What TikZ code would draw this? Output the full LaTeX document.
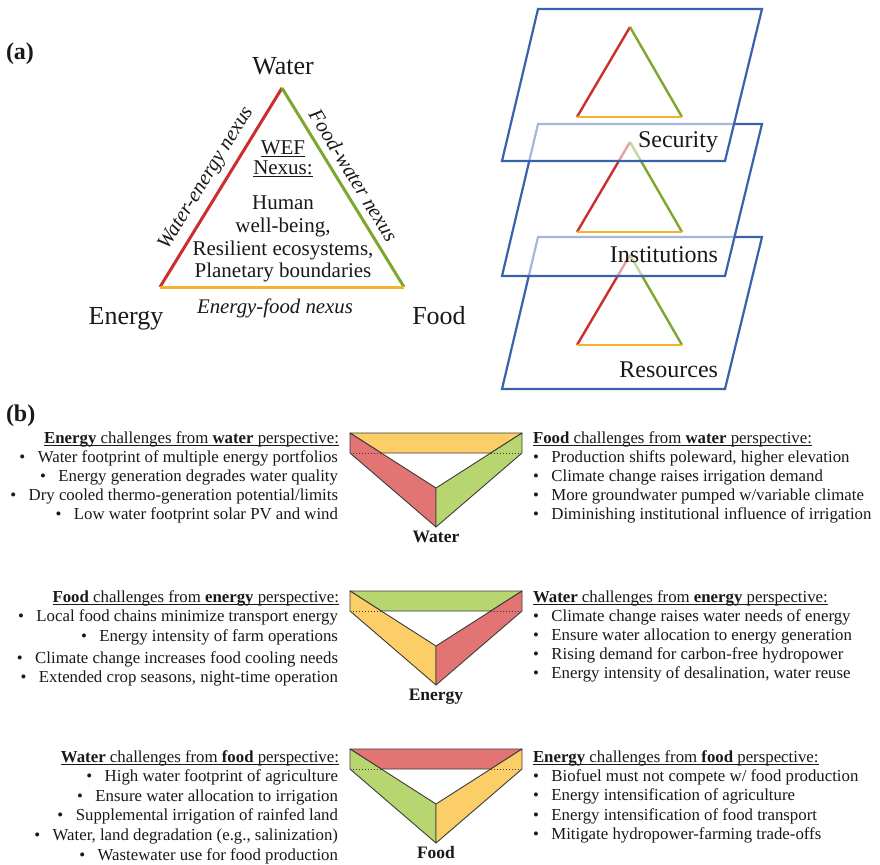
\documentclass[tikz,border=0pt]{standalone}
\usepackage{fontspec}
\setmainfont{Liberation Serif}
\definecolor{tred}{RGB}{205,45,45}
\definecolor{tgreen}{RGB}{125,168,45}
\definecolor{torange}{RGB}{246,178,40}
\definecolor{pblue}{RGB}{58,98,172}
\definecolor{fyellow}{RGB}{251,206,104}
\definecolor{fred}{RGB}{226,116,116}
\definecolor{fgreen}{RGB}{184,214,112}
\definecolor{ink}{RGB}{25,25,25}
\definecolor{edgegray}{RGB}{60,60,60}
\newcommand{\fsz}[1]{\fontsize{#1}{#1}\selectfont}
\newcommand{\bul}{\textbullet\hspace{12.5pt}}
\tikzset{
  lbl/.style={inner sep=0pt, outer sep=0pt, text=ink},
  corner/.style={lbl, font=\fsz{26}, anchor=base},
  nexus/.style={lbl, font={\fsz{20.8}\itshape}},
  wef/.style={lbl, font=\fsz{21}, anchor=base},
  layer/.style={lbl, font=\fsz{24}, anchor=base east},
  panel/.style={lbl, font={\fsz{24}\bfseries}, anchor=base west},
  lt/.style={lbl, font=\fsz{16.8}, anchor=base east},
  rt/.style={lbl, font=\fsz{16.8}, anchor=base west},
  vlab/.style={lbl, font={\fsz{17.5}\bfseries}, anchor=base},
  face/.style={draw=edgegray, line width=0.9pt, line join=round},
  planeedge/.style={draw=pblue, line width=2.2pt, line join=miter},
  uline/.style={line width=0.9pt, draw=ink},
  nexline/.style={line width=3pt},
  smallline/.style={line width=2.4pt},
}
% header with underline: #1 style, #2 name, #3 position, #4 text
\newcommand{\hdr}[4]{%
  \node[#1] (#2) at #3 {#4};
  \draw[uline] ([yshift=-2.4pt]#2.base west) -- ([yshift=-2.4pt]#2.base east);}
% folded triangle: #1 top y, #2 top colour, #3 left colour, #4 right colour, #5 label
\newcommand{\wefv}[5]{%
  \begin{scope}[shift={(350,#1)}]
    \coordinate (A) at (0,0);
    \coordinate (B) at (172,0);
    \coordinate (C) at (86,55);
    \coordinate (D) at (86,94);
    \coordinate (E) at (0,20);
    \coordinate (F) at (172,20);
    \coordinate (G) at (31.3,20);
    \coordinate (H) at (140.7,20);
    \path[face, fill=#2] (A) -- (B) -- (H) -- (G) -- cycle;
    \path[face, fill=#3] (A) -- (C) -- (D) -- (E) -- cycle;
    \path[face, fill=#4] (B) -- (F) -- (D) -- (C) -- cycle;
    \draw[edgegray, line width=0.8pt, dash pattern=on 0.9pt off 2.1pt] (E) -- (G) (H) -- (F);
    \node[vlab] (#5lab) at (86,109.5) {#5};
  \end{scope}}
% layer plane: #1 top y, #2 fill opacity, #3 name
\newcommand{\wefplane}[3]{%
  \path[planeedge, fill=white, fill opacity=#2]
    (538,#1) -- (762,#1) -- (725,{#1+152}) -- (502,{#1+152}) -- cycle;
  \coordinate (#3W) at (630,{#1+18});
  \coordinate (#3E) at (577,{#1+108});
  \coordinate (#3F) at (682,{#1+108});
  \draw[smallline, tred] (#3E) -- (#3W);
  \draw[smallline, tgreen] (#3W) -- (#3F);
  \draw[smallline, torange] (#3E) -- (#3F);}

\begin{document}
\begin{tikzpicture}[x=1pt, y=-1pt]
\useasboundingbox (0,0) rectangle (880,864);
\fill[white] (0,0) rectangle (880,864);

% ---------------- (a) ----------------
\node[panel] (pa) at (6,60) {(a)};
\coordinate (TW) at (282,88);
\coordinate (TE) at (160,287);
\coordinate (TF) at (404,287);
\draw[nexline, tred] (TE) -- (TW);
\draw[nexline, tgreen] (TW) -- (TF);
\draw[nexline, torange] (TE) -- (TF);
\node[corner] (lw) at (283,75) {Water};
\node[corner] (le) at (126,324) {Energy};
\node[corner] (lf) at (439,324) {Food};
\path (TE) -- (TW) node[nexus, sloped, pos=0.5, above=8pt] (nwe) {Water-energy nexus};
\path (TW) -- (TF) node[nexus, sloped, pos=0.48, above=8pt] (nfw) {Food-water nexus};
\node[nexus, anchor=base] (nef) at (275,313) {Energy-food nexus};
\hdr{wef}{wefa}{(283,154)}{WEF}
\hdr{wef}{wefb}{(283,174)}{Nexus:}
\node[wef] (c1) at (283,209) {Human};
\node[wef] (c2) at (283,232) {well-being,};
\node[wef] (c3) at (283,255) {Resilient ecosystems,};
\node[wef] (c4) at (283,277) {Planetary boundaries};

% stacked layers
\wefplane{237}{1}{p3}
\node[layer] (res) at (718,377) {Resources};
\wefplane{124}{0.55}{p2}
\node[layer] (inst) at (718,262) {Institutions};
\wefplane{9}{0.55}{p1}
\node[layer] (sec) at (718,147) {Security};

% ---------------- (b) ----------------
\node[panel] (pb) at (6,421) {(b)};
\wefv{433}{fyellow}{fred}{fgreen}{Water}
\wefv{591}{fgreen}{fyellow}{fred}{Energy}
\wefv{749}{fred}{fgreen}{fyellow}{Food}

% row 1
\hdr{lt}{h1l}{(339,443)}{\textbf{Energy} challenges from \textbf{water} perspective:}
\node[lt] (a1) at (338,462) {\bul Water footprint of multiple energy portfolios};
\node[lt] (a2) at (338,481) {\bul Energy generation degrades water quality};
\node[lt] (a3) at (338,500) {\bul Dry cooled thermo-generation potential/limits};
\node[lt] (a4) at (338,519) {\bul Low water footprint solar PV and wind};
\hdr{rt}{h1r}{(533,443)}{\textbf{Food} challenges from \textbf{water} perspective:}
\node[rt] (b1) at (533,462) {\bul Production shifts poleward, higher elevation};
\node[rt] (b2) at (533,481) {\bul Climate change raises irrigation demand};
\node[rt] (b3) at (533,500) {\bul More groundwater pumped w/variable climate};
\node[rt] (b4) at (533,519) {\bul Diminishing institutional influence of irrigation};

% row 2
\hdr{lt}{h2l}{(339,602)}{\textbf{Food} challenges from \textbf{energy} perspective:}
\node[lt] (c5) at (338,621) {\bul Local food chains minimize transport energy};
\node[lt] (c6) at (338,641) {\bul Energy intensity of farm operations};
\node[lt] (c7) at (338,663) {\bul Climate change increases food cooling needs};
\node[lt] (c8) at (338,682) {\bul Extended crop seasons, night-time operation};
\hdr{rt}{h2r}{(533,602)}{\textbf{Water} challenges from \textbf{energy} perspective:}
\node[rt] (d1) at (533,621) {\bul Climate change raises water needs of energy};
\node[rt] (d2) at (533,640) {\bul Ensure water allocation to energy generation};
\node[rt] (d3) at (533,659) {\bul Rising demand for carbon-free hydropower};
\node[rt] (d4) at (533,678) {\bul Energy intensity of desalination, water reuse};

% row 3
\hdr{lt}{h3l}{(339,762)}{\textbf{Water} challenges from \textbf{food} perspective:}
\node[lt] (e1) at (338,781) {\bul High water footprint of agriculture};
\node[lt] (e2) at (338,801) {\bul Ensure water allocation to irrigation};
\node[lt] (e3) at (338,820) {\bul Supplemental irrigation of rainfed land};
\node[lt] (e4) at (338,840) {\bul Water, land degradation (e.g., salinization)};
\node[lt] (e5) at (338,860) {\bul Wastewater use for food production};
\hdr{rt}{h3r}{(533,762)}{\textbf{Energy} challenges from \textbf{food} perspective:}
\node[rt] (f1) at (533,781) {\bul Biofuel must not compete w/ food production};
\node[rt] (f2) at (533,800) {\bul Energy intensification of agriculture};
\node[rt] (f3) at (533,820) {\bul Energy intensification of food transport};
\node[rt] (f4) at (533,839) {\bul Mitigate hydropower-farming trade-offs};
\end{tikzpicture}
\end{document}
